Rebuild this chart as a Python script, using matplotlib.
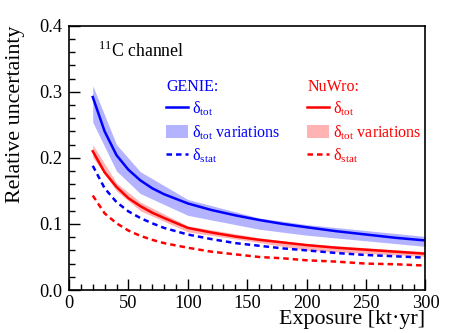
import matplotlib
matplotlib.use("Agg")
import matplotlib.pyplot as plt
from matplotlib.lines import Line2D
from matplotlib.patches import Patch

plt.rcParams["font.family"] = ["Liberation Serif", "DejaVu Serif"]
plt.rcParams["mathtext.fontset"] = "custom"
plt.rcParams["mathtext.rm"] = "Liberation Serif"

# exposure points (kt*yr) for the curves
exposure = [20, 30, 40, 50, 60, 70, 80, 100, 120, 140, 160, 180, 200, 225, 250, 275, 300]

genie_tot = [0.292, 0.240, 0.204, 0.182, 0.166, 0.154, 0.145, 0.131, 0.121, 0.113, 0.106,
             0.100, 0.095, 0.089, 0.084, 0.079, 0.075]
genie_stat = [0.188, 0.154, 0.133, 0.119, 0.109, 0.101, 0.094, 0.084, 0.077, 0.071, 0.067,
              0.063, 0.060, 0.056, 0.053, 0.051, 0.049]
nuwro_tot = [0.210, 0.178, 0.156, 0.139, 0.127, 0.117, 0.109, 0.094, 0.087, 0.081, 0.076,
             0.072, 0.068, 0.064, 0.061, 0.058, 0.055]
nuwro_stat = [0.143, 0.116, 0.101, 0.090, 0.082, 0.076, 0.071, 0.064, 0.058, 0.054, 0.050,
              0.048, 0.045, 0.043, 0.040, 0.039, 0.037]

# variation bands (coarser sampling)
band_x = [20, 40, 60, 100, 160, 200, 300]
genie_lo = [0.254, 0.180, 0.146, 0.113, 0.092, 0.083, 0.066]
genie_hi = [0.309, 0.220, 0.179, 0.137, 0.109, 0.099, 0.081]
nuwro_lo = [0.201, 0.150, 0.120, 0.088, 0.072, 0.060, 0.051]
nuwro_hi = [0.220, 0.162, 0.133, 0.097, 0.079, 0.070, 0.058]

BLUE = "#0000ff"
RED = "#ff0000"
BLUE_BAND = "#b3b3ff"
RED_BAND = "#ffb3b3"

fig = plt.figure(figsize=(4.63, 3.33), dpi=100)
ax = fig.add_axes([0.149, 0.129, 0.770, 0.794])

ax.fill_between(band_x, genie_lo, genie_hi, color=BLUE_BAND, lw=0)
ax.fill_between(band_x, nuwro_lo, nuwro_hi, color=RED_BAND, lw=0)
dash = (0, (2.2, 1.6))
ax.plot(exposure, genie_stat, color=BLUE, lw=1.8, ls=dash)
ax.plot(exposure, nuwro_stat, color=RED, lw=1.8, ls=dash)
ax.plot(exposure, genie_tot, color=BLUE, lw=1.8)
ax.plot(exposure, nuwro_tot, color=RED, lw=1.8)

ax.set_xlim(0, 300)
ax.set_ylim(0, 0.4)
ax.set_xticks([0, 50, 100, 150, 200, 250, 300])
ax.set_xticks(range(0, 301, 10), minor=True)
ax.set_yticks([0.0, 0.1, 0.2, 0.3, 0.4])
ax.set_yticks([i * 0.02 for i in range(21)], minor=True)
ax.set_yticklabels(["0.0", "0.1", "0.2", "0.3", "0.4"])
ax.tick_params(which="both", direction="in", top=False, right=False, labelsize=13.2, pad=4.5)
ax.tick_params(axis="x", pad=3.5)
ax.tick_params(which="major", length=8, width=1)
ax.tick_params(which="minor", length=4.5, width=1)
for s in ax.spines.values():
    s.set_linewidth(1.2)

ax.set_xlabel("Exposure [kt\u00b7yr]", fontsize=15.8, loc="right", labelpad=-1.5)
ax.set_ylabel("Relative uncertainty", fontsize=15.8, loc="top")
ax.yaxis.set_label_coords(-0.123, 1.0)

ax.text(0.08, 0.905, "$^{11}$C channel", transform=ax.transAxes, fontsize=12.8,
        va="center", ha="left")

legend_kw = dict(frameon=False, fontsize=11.5, handlelength=1.35, handleheight=0.87,
                 handletextpad=0.25, labelspacing=0.3, borderpad=0, borderaxespad=0,
                 alignment="left", title_fontsize=11.5)
labels = ["δ$_{\\rm tot}$", "δ$_{\\rm tot}$ variations", "δ$_{\\rm stat}$"]

h_genie = [Line2D([], [], color=BLUE, lw=1.8),
           Patch(facecolor=BLUE_BAND, edgecolor="none"),
           Line2D([], [], color=BLUE, lw=1.8, ls=dash)]
leg1 = ax.legend(h_genie, labels, title="GENIE:", loc="upper left",
                 bbox_to_anchor=(0.272, 0.80), labelcolor=BLUE, **legend_kw)
leg1.get_title().set_color(BLUE)
ax.add_artist(leg1)

h_nuwro = [Line2D([], [], color=RED, lw=1.8),
           Patch(facecolor=RED_BAND, edgecolor="none"),
           Line2D([], [], color=RED, lw=1.8, ls=dash)]
leg2 = ax.legend(h_nuwro, labels, title="NuWro:", loc="upper left",
                 bbox_to_anchor=(0.669, 0.80), labelcolor=RED, **legend_kw)
leg2.get_title().set_color(RED)

fig.savefig("out.png", dpi=100)
